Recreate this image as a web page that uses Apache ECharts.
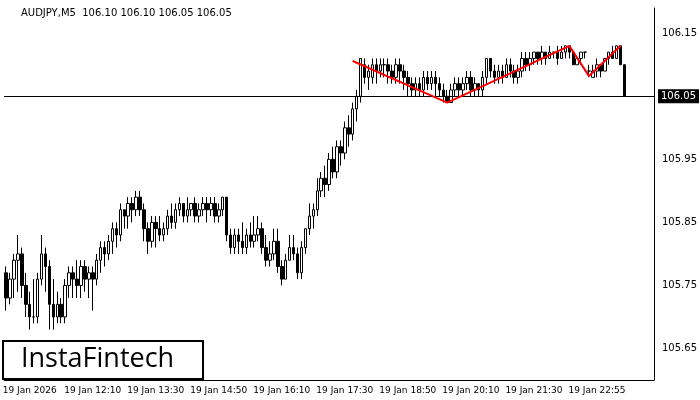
<!DOCTYPE html>
<html>
<head>
<meta charset="utf-8">
<script src="https://cdn.jsdelivr.net/npm/echarts@6/dist/echarts.min.js"></script>
<style>html,body{margin:0;padding:0;background:#fff}#chart{width:700px;height:400px}</style>
</head>
<body>
<div id="chart"></div>
<script>
// [open, close, low, high]
var bars = [
	[105.77,105.73,105.71,105.78],[105.73,105.76,105.72,105.77],[105.76,105.79,105.73,105.80],[105.79,105.80,105.74,105.83],
	[105.80,105.75,105.73,105.81],[105.75,105.72,105.70,105.77],[105.72,105.70,105.68,105.74],[105.70,105.70,105.69,105.76],
	[105.70,105.76,105.69,105.77],[105.76,105.80,105.75,105.83],[105.80,105.78,105.74,105.81],[105.78,105.72,105.68,105.79],
	[105.72,105.70,105.68,105.76],[105.70,105.72,105.69,105.74],[105.72,105.70,105.69,105.73],[105.70,105.75,105.69,105.76],
	[105.75,105.77,105.73,105.78],[105.77,105.76,105.73,105.78],[105.76,105.75,105.73,105.79],[105.75,105.78,105.73,105.79],
	[105.78,105.76,105.74,105.79],[105.76,105.77,105.73,105.78],[105.77,105.76,105.71,105.78],[105.76,105.79,105.75,105.80],
	[105.79,105.81,105.77,105.82],[105.81,105.80,105.78,105.82],[105.80,105.82,105.79,105.83],[105.82,105.84,105.80,105.85],
	[105.84,105.83,105.81,105.85],[105.83,105.87,105.82,105.88],[105.87,105.86,105.84,105.87],[105.86,105.88,105.84,105.89],
	[105.88,105.87,105.85,105.89],[105.87,105.89,105.86,105.90],[105.89,105.87,105.86,105.90],[105.87,105.84,105.82,105.88],
	[105.84,105.82,105.80,105.85],[105.82,105.85,105.81,105.86],[105.85,105.84,105.81,105.86],[105.84,105.83,105.82,105.86],
	[105.83,105.84,105.82,105.85],[105.84,105.86,105.83,105.87],[105.86,105.85,105.84,105.88],[105.85,105.87,105.84,105.88],
	[105.87,105.88,105.86,105.89],[105.88,105.86,105.85,105.88],[105.86,105.87,105.85,105.89],[105.87,105.88,105.86,105.88],
	[105.88,105.86,105.85,105.89],[105.86,105.87,105.85,105.88],[105.87,105.88,105.86,105.89],[105.88,105.87,105.85,105.89],
	[105.87,105.88,105.86,105.89],[105.88,105.86,105.85,105.89],[105.86,105.87,105.85,105.88],[105.87,105.89,105.86,105.89],
	[105.89,105.83,105.82,105.89],[105.83,105.81,105.80,105.84],[105.81,105.83,105.80,105.84],[105.83,105.82,105.80,105.84],
	[105.82,105.81,105.80,105.85],[105.81,105.83,105.80,105.84],[105.83,105.82,105.81,105.85],[105.82,105.83,105.81,105.86],
	[105.83,105.84,105.82,105.86],[105.84,105.81,105.80,105.85],[105.81,105.79,105.78,105.83],[105.79,105.80,105.78,105.82],
	[105.80,105.82,105.79,105.84],[105.82,105.78,105.77,105.84],[105.78,105.76,105.75,105.79],[105.76,105.79,105.76,105.80],
	[105.79,105.81,105.79,105.83],[105.81,105.80,105.79,105.83],[105.80,105.77,105.76,105.81],[105.77,105.81,105.76,105.82],
	[105.81,105.84,105.80,105.84],[105.84,105.86,105.83,105.88],[105.86,105.87,105.84,105.88],[105.87,105.90,105.86,105.92],
	[105.90,105.92,105.89,105.93],[105.92,105.91,105.89,105.94],[105.91,105.95,105.90,105.96],[105.95,105.93,105.92,105.97],
	[105.93,105.97,105.92,105.98],[105.97,105.96,105.94,105.98],[105.96,106.00,105.95,106.01],[106.00,105.99,105.97,106.02],
	[105.99,106.03,105.98,106.04],[106.03,106.05,106.01,106.06],[106.05,106.11,106.04,106.11],[106.10,106.08,106.07,106.11],
	[106.08,106.09,106.06,106.10],[106.08,106.10,106.07,106.11],[106.10,106.09,106.07,106.11],[106.09,106.10,106.08,106.11],
	[106.10,106.10,106.08,106.11],[106.10,106.09,106.07,106.11],[106.09,106.08,106.07,106.10],[106.08,106.10,106.07,106.11],
	[106.10,106.09,106.07,106.11],[106.09,106.08,106.06,106.10],[106.08,106.07,106.05,106.09],[106.07,106.06,106.05,106.08],
	[106.06,106.07,106.05,106.08],[106.07,106.06,106.05,106.08],[106.06,106.08,106.05,106.09],[106.08,106.07,106.06,106.09],
	[106.07,106.08,106.06,106.09],[106.08,106.07,106.05,106.09],[106.07,106.06,106.05,106.08],[106.06,106.05,106.04,106.07],
	[106.05,106.04,106.04,106.06],[106.04,106.06,106.04,106.07],[106.06,106.07,106.05,106.08],[106.07,106.06,106.05,106.08],
	[106.06,106.07,106.05,106.08],[106.07,106.08,106.06,106.09],[106.08,106.06,106.05,106.09],[106.06,106.07,106.05,106.08],
	[106.07,106.06,106.05,106.07],[106.06,106.08,106.05,106.09],[106.08,106.11,106.07,106.11],[106.11,106.09,106.08,106.11],
	[106.09,106.08,106.07,106.10],[106.08,106.09,106.07,106.10],[106.09,106.08,106.07,106.10],[106.08,106.10,106.08,106.11],
	[106.10,106.09,106.08,106.11],[106.09,106.08,106.07,106.10],[106.08,106.09,106.07,106.10],[106.09,106.11,106.08,106.12],
	[106.11,106.10,106.09,106.12],[106.10,106.11,106.09,106.12],[106.11,106.12,106.10,106.12],[106.12,106.11,106.10,106.12],
	[106.11,106.12,106.10,106.13],[106.12,106.11,106.10,106.12],[106.11,106.12,106.11,106.13],[106.12,106.12,106.11,106.12],
	[106.12,106.11,106.10,106.13],[106.11,106.12,106.11,106.13],[106.12,106.13,106.11,106.13],[106.13,106.12,106.11,106.13],
	[106.12,106.10,106.10,106.12],[106.10,106.11,106.10,106.11],[106.11,106.12,106.10,106.12],[106.12,106.12,106.11,106.12],
	[106.09,106.09,106.08,106.10],[106.08,106.09,106.08,106.10],[106.09,106.10,106.08,106.11],[106.10,106.09,106.08,106.10],
	[106.09,106.11,106.09,106.11],[106.11,106.12,106.10,106.12],[106.12,106.11,106.11,106.13],[106.11,106.13,106.11,106.13],
	[106.13,106.10,106.10,106.13],[106.10,106.05,106.05,106.10]
];
// pattern line vertices
var patternIdx = [88, 112, 143, 148, 156];
var patternVals = [106.106, 106.040, 106.130, 106.082, 106.130];
var tickIdx = [6, 22, 38, 54, 70, 86, 102, 118, 134, 150];
var tickLabels = ['19 Jan 2026', '19 Jan 12:10', '19 Jan 13:30', '19 Jan 14:50', '19 Jan 16:10',
	'19 Jan 17:30', '19 Jan 18:50', '19 Jan 20:10', '19 Jan 21:30', '19 Jan 22:55'];
var yLabels = [105.65, 105.75, 105.85, 105.95, 106.05, 106.15];
var lastPrice = 106.05;
var emptyBarsRight = 7;

var cats = [];
for (var i = 0; i < bars.length + emptyBarsRight; i++) cats.push(String(i));
var pattern = bars.map(function () { return null; });
patternIdx.forEach(function (ix, k) { pattern[ix] = patternVals[k]; });

var myChart = echarts.init(document.getElementById('chart'));
var option = {
	animation: false,
	textStyle: {fontFamily: 'DejaVu Sans'},
	grid: {left: 4, right: 40, top: 8, bottom: 20},
	title: {
		text: 'AUDJPY,M5  106.10 106.10 106.05 106.05',
		left: 16, top: 3,
		textStyle: {fontSize: 10, fontWeight: 'normal', color: '#000'}
	},
	xAxis: {
		type: 'category', data: cats, boundaryGap: true,
		axisLine: {lineStyle: {color: '#000'}},
		axisTick: {show: false},
		axisLabel: {
			interval: function (i) { return tickIdx.indexOf(i) >= 0; },
			formatter: function (v, i) { return tickLabels[tickIdx.indexOf(i)]; },
			fontSize: 9, color: '#000', margin: 6
		},
		splitLine: {show: false}
	},
	yAxis: {
		type: 'value', position: 'right', min: 105.6, max: 106.19, interval: 0.05,
		axisLine: {show: true, lineStyle: {color: '#000'}},
		axisTick: {show: false},
		splitLine: {show: false},
		axisLabel: {
			fontSize: 10, color: '#000', margin: 8,
			formatter: function (v) {
				var r = Math.round(v * 100) / 100;
				for (var i = 0; i < yLabels.length; i++) if (Math.abs(yLabels[i] - r) < 0.001) return r.toFixed(2);
				return '';
			}
		}
	},
	series: [
		{
			type: 'candlestick', data: bars, barWidth: 3,
			itemStyle: {color: '#fff', color0: '#000', borderColor: '#000', borderColor0: '#000', borderWidth: 1},
			markLine: {
				symbol: 'none', silent: true,
				lineStyle: {color: '#000', width: 1, type: 'solid'},
				label: {
					position: 'end', formatter: lastPrice.toFixed(2), color: '#fff',
					backgroundColor: '#000', padding: [2, 3], fontSize: 10, distance: 4
				},
				data: [{yAxis: lastPrice}]
			}
		},
		{
			type: 'line', data: pattern, connectNulls: true, showSymbol: false,
			lineStyle: {color: '#ff0000', width: 2}, z: 5
		}
	],
	graphic: [
		{
			type: 'group', left: 2, top: 340,
			children: [
				{type: 'rect', shape: {x: 0, y: 0, width: 200, height: 38}, style: {fill: '#fff', stroke: '#000', lineWidth: 2}},
				{type: 'text', x: 18, y: 5, style: {text: 'InstaFintech', fontSize: 27, fill: '#000', fontFamily: 'Open Sans'}}
			]
		}
	]
};
myChart.setOption(option);
</script>
</body>
</html>
